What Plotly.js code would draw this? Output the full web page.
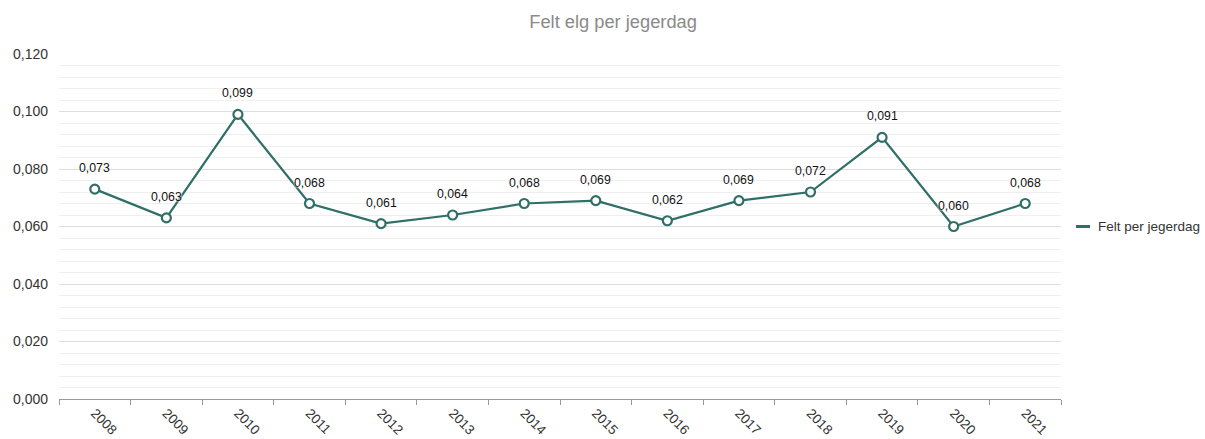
<!DOCTYPE html>
<html><head><meta charset="utf-8">
<script src="https://cdn.plot.ly/plotly-3.0.1.min.js"></script>
<style>body{margin:0;background:#fff}#c{width:1205px;height:439px}</style>
</head><body><div id="c"></div>
<script>
const years = ['2008','2009','2010','2011','2012','2013','2014','2015','2016','2017','2018','2019','2020','2021'];
const feltPerJegerdag = [0.073,0.063,0.099,0.068,0.061,0.064,0.068,0.069,0.062,0.069,0.072,0.091,0.060,0.068];
const seriesName = 'Felt per jegerdag';
const labels = feltPerJegerdag.map(v => v.toFixed(3).replace('.', ','));
const col = '#2f6f67';
const FONT = 'Liberation Sans, Arial, sans-serif';
const traces = [
  {x: years, y: feltPerJegerdag, type:'scatter', mode:'lines+markers', name:seriesName,
   showlegend:false, cliponaxis:false,
   line:{color:col, width:2.2},
   marker:{size:9, color:'#fff', line:{color:col, width:2.2}}}
];
const annotations = years.map((yr, i) => ({
  x: i, y: feltPerJegerdag[i], xref:'x', yref:'y', text: labels[i], showarrow:false,
  yshift: 21, font:{family:FONT, size:12.3, color:'#111', shadow:'0 0 2px #fff, 0 0 2px #fff'}
}));
annotations.push({xref:'paper', yref:'paper', x:1.035, y:0.5, xanchor:'left', yanchor:'middle',
  text: seriesName, showarrow:false, font:{family:FONT, size:13.5, color:'#333'}});
const layout = {
  width:1205, height:439,
  margin:{l:59, r:144, t:54, b:40},
  separators:',.',
  paper_bgcolor:'#fff', plot_bgcolor:'#fff',
  font:{family:FONT, size:13, color:'#333'},
  title:{text:'Felt elg per jegerdag', x:0.553, xref:'paper', xanchor:'center', y:0.95, yanchor:'middle',
    font:{size:18.3, color:'#8a8a8a'}},
  xaxis:{type:'category', range:[-0.5, 13.5], tickson:'boundaries', ticks:'outside', ticklen:5, tickcolor:'#999',
    showline:true, linecolor:'#999', linewidth:1, showgrid:false, tickangle:45,
    tickfont:{size:13.5, color:'#333'}, fixedrange:true},
  yaxis:{range:[0,0.12], dtick:0.02, tickformat:'.3f', showgrid:true, gridcolor:'#dedede',
    zeroline:false, showline:false, ticks:'', ticklabelstandoff:10,
    minor:{dtick:0.004, showgrid:true, gridcolor:'#efefef'},
    tickfont:{size:14, color:'#333'}},
  shapes:[{type:'line', xref:'paper', yref:'paper', x0:1.015, x1:1.029, y0:0.5, y1:0.5,
    line:{color:col, width:3}}],
  annotations: annotations,
  showlegend:false
};
Plotly.newPlot('c', traces, layout, {displayModeBar:false, staticPlot:true});
</script></body></html>
